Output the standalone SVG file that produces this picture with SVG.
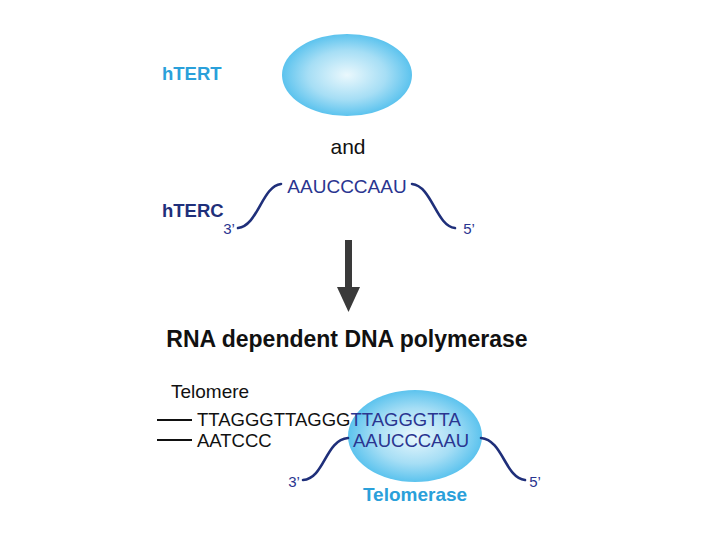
<svg xmlns="http://www.w3.org/2000/svg" width="720" height="540" viewBox="0 0 720 540">
<defs>
<radialGradient id="g" cx="0.5" cy="0.5" r="0.5">
<stop offset="0" stop-color="#eaf8fd"/>
<stop offset="0.6" stop-color="#a6def5"/>
<stop offset="1" stop-color="#5cc3ee"/>
</radialGradient>
<style>
text{font-family:"Liberation Sans",Arial,sans-serif}
.lb{font-weight:bold;fill:#2aa0da}
.nv{fill:#2a3590}
.bk{fill:#111}
.strand{fill:none;stroke:#1f2f7a;stroke-width:2.6;stroke-linecap:round}
</style>
</defs>
<rect width="720" height="540" fill="#fff"/>
<g id="hTERT">
<ellipse cx="347" cy="75" rx="65" ry="41" fill="url(#g)"/>
<text class="lb" x="162" y="80" font-size="18.5">hTERT</text>
</g>
<text class="bk" x="348" y="154" font-size="21" text-anchor="middle">and</text>
<g id="hTERC">
<text x="162" y="217" font-size="18.5" font-weight="bold" fill="#1f2f7a">hTERC</text>
<path class="strand" d="M238,228 C258,226 262,186 281,184"/>
<path class="strand" d="M412,184 C432,186 436,226 455,228"/>
<text class="nv" x="347" y="193" font-size="19" text-anchor="middle">AAUCCCAAU</text>
<text class="nv" x="229" y="234" font-size="15" text-anchor="middle">3’</text>
<text class="nv" x="469" y="234" font-size="15" text-anchor="middle">5’</text>
</g>
<g id="connectors">
<line x1="348.5" y1="240" x2="348.5" y2="292" stroke="#3a3a3a" stroke-width="7"/>
<polygon points="337,287 360,287 348.5,312" fill="#3a3a3a"/>
</g>
<text class="bk" x="347" y="347" font-size="23" font-weight="bold" text-anchor="middle">RNA dependent DNA polymerase</text>
<g id="telomerase">
<ellipse cx="415" cy="436" rx="67" ry="46" fill="url(#g)"/>
<path class="strand" d="M303,480 C325,478 325,440 348,438"/>
<path class="strand" d="M481,438 C503,440 505,478 525,480"/>
<text class="nv" x="294" y="487" font-size="15" text-anchor="middle">3’</text>
<text class="nv" x="535" y="487" font-size="15" text-anchor="middle">5’</text>
<text class="lb" x="415" y="501" font-size="19" text-anchor="middle">Telomerase</text>
</g>
<g id="telomere">
<text class="bk" x="171" y="398" font-size="19">Telomere</text>
<line x1="157" y1="420" x2="192" y2="420" stroke="#111" stroke-width="2"/>
<line x1="157" y1="440" x2="192" y2="440" stroke="#111" stroke-width="2"/>
<text x="197" y="426" font-size="18.5"><tspan class="bk">TTAGGGTTAGGG</tspan><tspan class="nv">TTAGGGTTA</tspan></text>
<text class="bk" x="197" y="447" font-size="18.5">AATCCC</text>
<text class="nv" x="353" y="447" font-size="18.5">AAUCCCAAU</text>
</g>
</svg>
